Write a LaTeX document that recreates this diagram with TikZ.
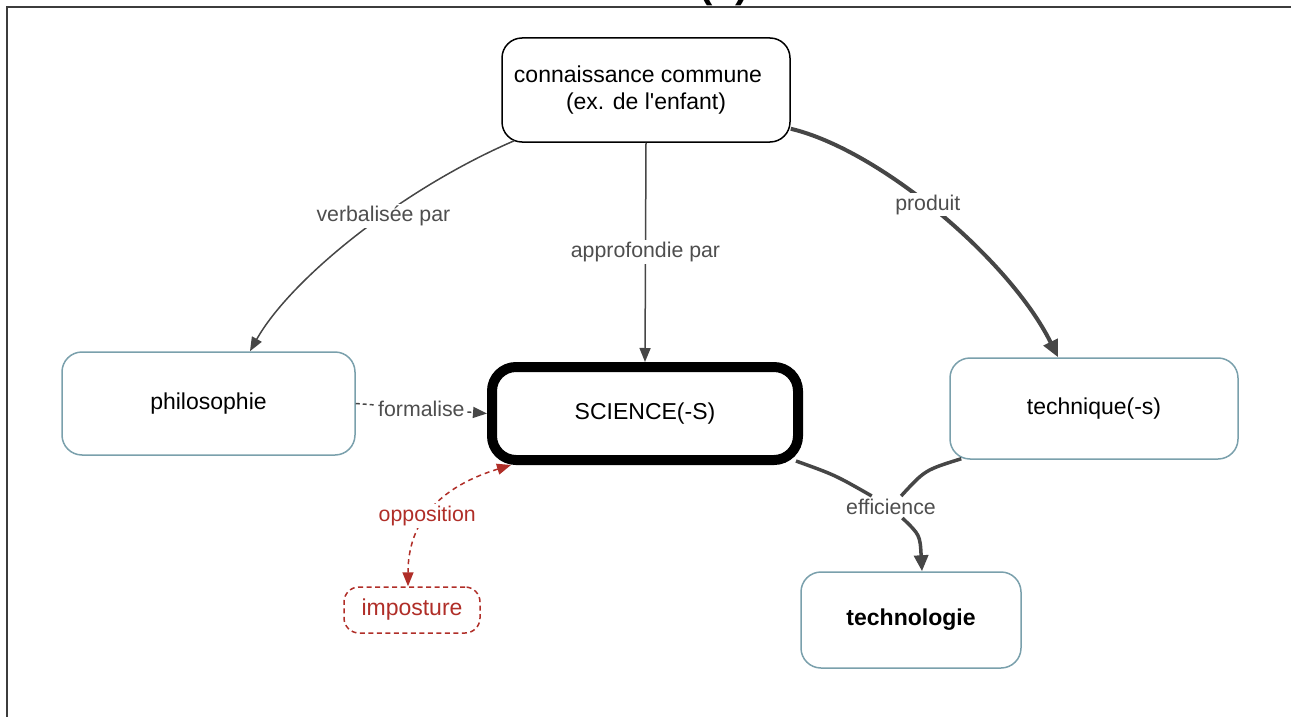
\documentclass[tikz,border=0pt]{standalone}
\usepackage{fontspec}
\setmainfont{Liberation Sans}
\usetikzlibrary{arrows.meta,calc}
\definecolor{edgegray}{RGB}{70,70,70}
\definecolor{labelgray}{RGB}{78,78,78}
\definecolor{boxteal}{RGB}{122,160,172}
\definecolor{oppred}{RGB}{176,46,40}
\definecolor{framegray}{RGB}{60,60,60}

\begin{document}
\begin{tikzpicture}[x=1pt,y=-1pt,
  nodefont/.style={font=\fontsize{23}{27}\selectfont},
  labelfont/.style={font=\fontsize{21.3}{25}\selectfont},
  concept/.style={draw=boxteal,line width=1.5pt,rounded corners=20pt,fill=white,
    nodefont,text=black,inner sep=0pt},
  rootbox/.style={draw=black,line width=1.5pt,rounded corners=20pt,fill=white,
    nodefont,text=black,inner sep=0pt,align=center},
  corebox/.style={draw=black,line width=10pt,rounded corners=24pt,fill=white,
    nodefont,text=black,inner sep=0pt},
  fakebox/.style={draw=oppred,line width=1.5pt,dashed,dash pattern=on 5pt off 3.5pt,
    rounded corners=15pt,fill=white,nodefont,text=oppred,inner sep=0pt},
  link/.style={draw=edgegray,line width=1.5pt,-{Triangle[length=14pt,width=11pt]}},
  heavylink/.style={draw=edgegray,line width=4pt,-{Triangle[length=17pt,width=15pt]}},
  linklabel/.style={labelfont,text=labelgray,fill=white,inner sep=2pt},
]
\useasboundingbox (0,0) rectangle (1291,717);

% outer frame and the clipped caption above it
\begin{scope}
  \clip (0,0) rectangle (1291,717);
  \node[font=\fontsize{40}{44}\selectfont\bfseries,anchor=base] (cap) at (724,-2) {(a)};
\end{scope}
\draw[framegray,line width=2pt] (7,717) -- (7,7) -- (1291,7);

% concepts
\node[rootbox,minimum width=288pt,minimum height=104pt] (know) at (646,90)
  {connaissance commune\hspace*{16pt}\\(ex. de l\textquotesingle enfant)};
\node[concept,minimum width=293pt,minimum height=103pt] (phil) at (208.5,403.5) {philosophie};
\node[corebox,minimum width=306pt,minimum height=93pt] (sci) at (645,413.5) {SCIENCE(-S)};
\node[concept,minimum width=288pt,minimum height=101pt] (tech) at (1094,408.5) {technique(-s)};
\node[concept,minimum width=220pt,minimum height=96pt,font=\fontsize{23}{27}\selectfont\bfseries] (techno) at (911,620) {technologie};
\node[fakebox,minimum width=136pt,minimum height=46pt] (imp) at (412,610) {imposture};

% relations from common knowledge
\draw[link] ($(know.south west)+(13,-2)$) .. controls (400,190) and (290,280) ..
  ($(phil.north)+(41.5,0)$) node[linklabel,pos=0.4] (l1) {verbalisée par};
\draw[link] (know.south) -- (sci.north) node[linklabel,pos=0.5] (l2) {approfondie par};
\draw[heavylink] ($(know.south east)+(0,-14)$) .. controls (880,150) and (1010,260) ..
  ($(tech.north)+(-36,0)$) node[linklabel,pos=0.46] (l3) {produit};

% formalisation
\draw[link,dashed,dash pattern=on 4pt off 3pt] (phil.east) -- (sci.west)
  node[linklabel,pos=0.5] (l4) {formalise};

% opposition
\draw[draw=oppred,line width=1.5pt,dashed,dash pattern=on 5pt off 4pt,
  {Triangle[length=14pt,width=11pt]}-{Triangle[length=14pt,width=11pt]},color=oppred]
  ($(sci.south west)+(24,0)$) .. controls (430,490) and (408,530) ..
  ($(imp.north)+(-4,0)$) node[linklabel,text=oppred,pos=0.52] (l5) {opposition};

% efficience: science and technique lead to technologie
\node[labelfont,text=labelgray,inner sep=3pt] (eff) at (891,507) {efficience};
\draw[draw=edgegray,line width=3.5pt] ($(sci.south east)+(-7,-4)$) .. controls (835,475) .. (eff);
\draw[draw=edgegray,line width=3.5pt] ($(tech.south west)+(12,-1)$) .. controls (925,470) .. (eff);
\draw[draw=edgegray,line width=3.5pt,-{Triangle[length=16pt,width=14pt]}]
  (eff) .. controls (920,535) .. ($(techno.north)+(11,0)$);
\end{tikzpicture}
\end{document}
